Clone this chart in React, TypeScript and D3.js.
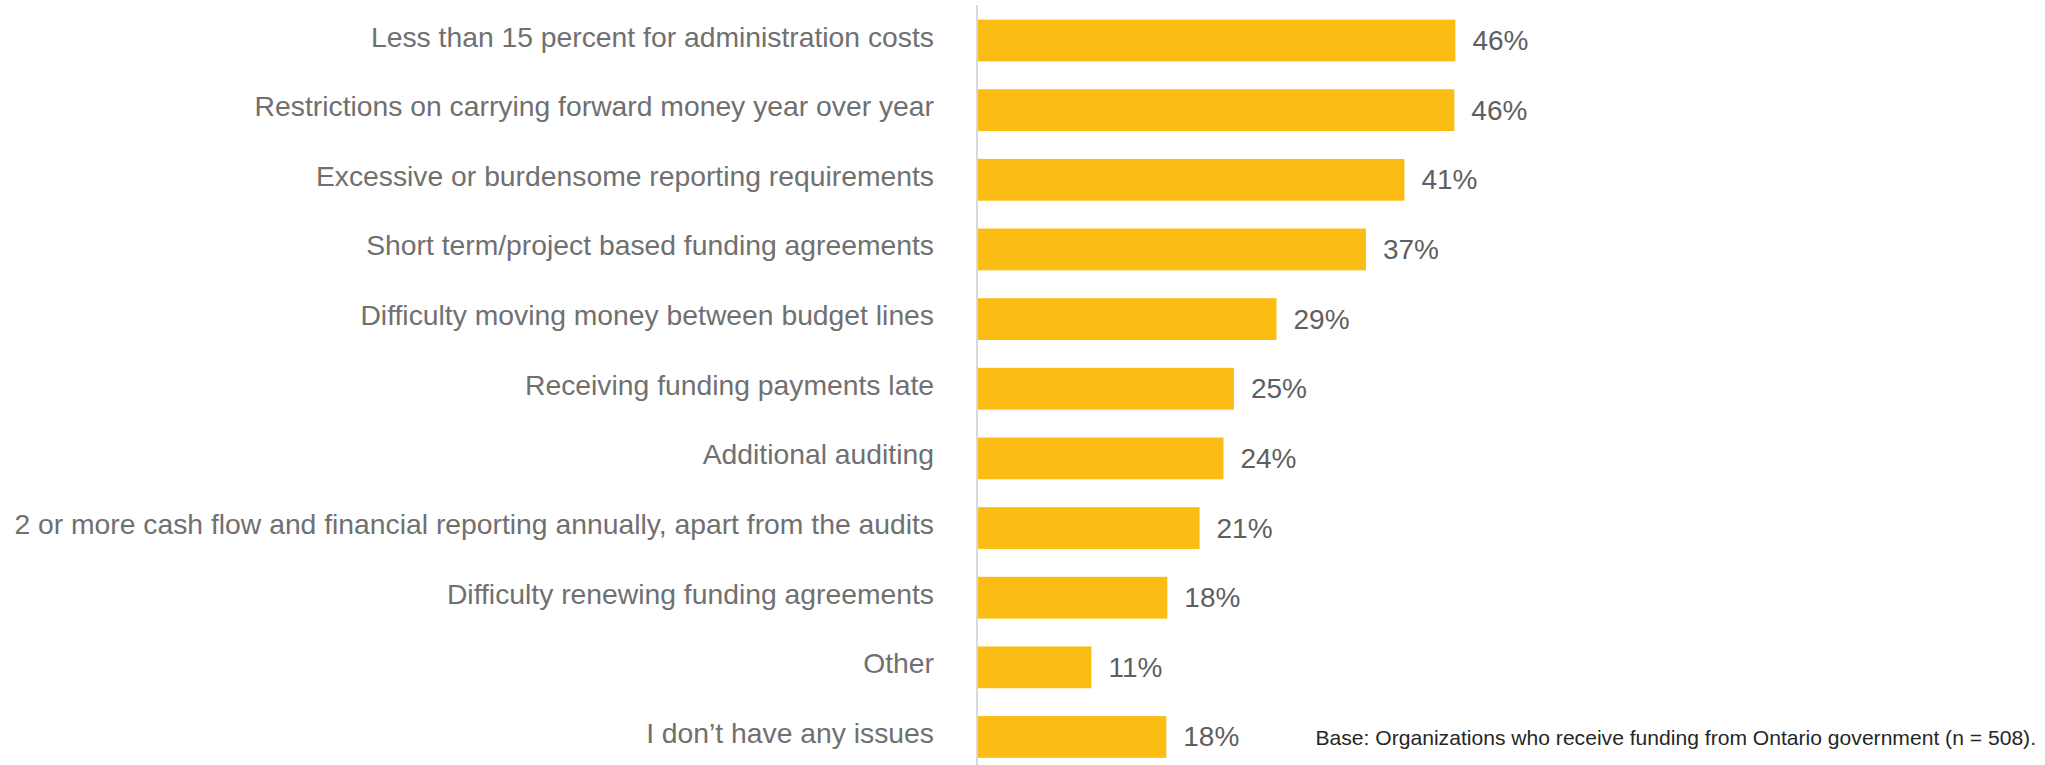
import React, { useRef, useEffect } from "react";
import * as d3 from "d3";

const categories = [
  "Less than 15 percent for administration costs",
  "Restrictions on carrying forward money year over year",
  "Excessive or burdensome reporting requirements",
  "Short term/project based funding agreements",
  "Difficulty moving money between budget lines",
  "Receiving funding payments late",
  "Additional auditing",
  "2 or more cash flow and financial reporting annually, apart from the audits",
  "Difficulty renewing funding agreements",
  "Other",
  "I don\u2019t have any issues",
];

const values = [46.0, 45.9, 41.1, 37.4, 28.8, 24.7, 23.7, 21.4, 18.3, 11.0, 18.2];

const footnote = "Base: Organizations who receive funding from Ontario government (n = 508).";

const W = 2045;
const H = 765;

const App = () => {
  const svgRef = useRef<SVGSVGElement>(null);

  useEffect(() => {
    const svg = d3.select(svgRef.current);
    svg.selectAll("*").remove();

    const axisX = 977;
    const font = "'Liberation Sans', Arial, sans-serif";

    // x scale: ~10.4px per percent
    const x = d3.scaleLinear().domain([0, 100]).range([axisX, axisX + 1040]);

    const y = d3
      .scaleBand()
      .domain(categories)
      .range([5.7, 771.8])
      .paddingInner(0.4)
      .paddingOuter(0.2);

    const data = categories.map((c, i) => ({ cat: c, value: values[i] }));

    // bars
    svg
      .append("g")
      .selectAll("rect")
      .data(data)
      .enter()
      .append("rect")
      .attr("x", x(0))
      .attr("y", (d) => y(d.cat)!)
      .attr("width", (d) => x(d.value) - x(0))
      .attr("height", y.bandwidth())
      .attr("fill", "#FBBC13");

    // vertical axis line
    svg
      .append("line")
      .attr("x1", axisX)
      .attr("x2", axisX)
      .attr("y1", 5)
      .attr("y2", H)
      .attr("stroke", "#d9d9d9")
      .attr("stroke-width", 2);

    // category labels
    svg
      .append("g")
      .selectAll("text")
      .data(data)
      .enter()
      .append("text")
      .attr("x", 934)
      .attr("y", (d) => y(d.cat)! + y.bandwidth() / 2 - 4)
      .attr("text-anchor", "end")
      .attr("dominant-baseline", "central")
      .attr("font-family", font)
      .attr("font-size", 28.3)
      .attr("fill", "#707070")
      .text((d) => d.cat);

    // value labels
    const fmt = d3.format(".0f");
    svg
      .append("g")
      .selectAll("text")
      .data(data)
      .enter()
      .append("text")
      .attr("x", (d) => x(d.value) + 17)
      .attr("y", (d) => y(d.cat)! + y.bandwidth() / 2)
      .attr("dominant-baseline", "central")
      .attr("font-family", font)
      .attr("font-size", 28)
      .attr("fill", "#5f5f5f")
      .text((d) => fmt(d.value) + "%");

    // footnote
    svg
      .append("text")
      .attr("x", 2036)
      .attr("y", 745)
      .attr("text-anchor", "end")
      .attr("font-family", font)
      .attr("font-size", 21.1)
      .attr("fill", "#262626")
      .text(footnote);
  }, []);

  return (
    <svg
      ref={svgRef}
      width={W}
      height={H}
      style={{ position: "absolute", left: 0, top: 0, background: "#fff" }}
    ></svg>
  );
};

export default App;
